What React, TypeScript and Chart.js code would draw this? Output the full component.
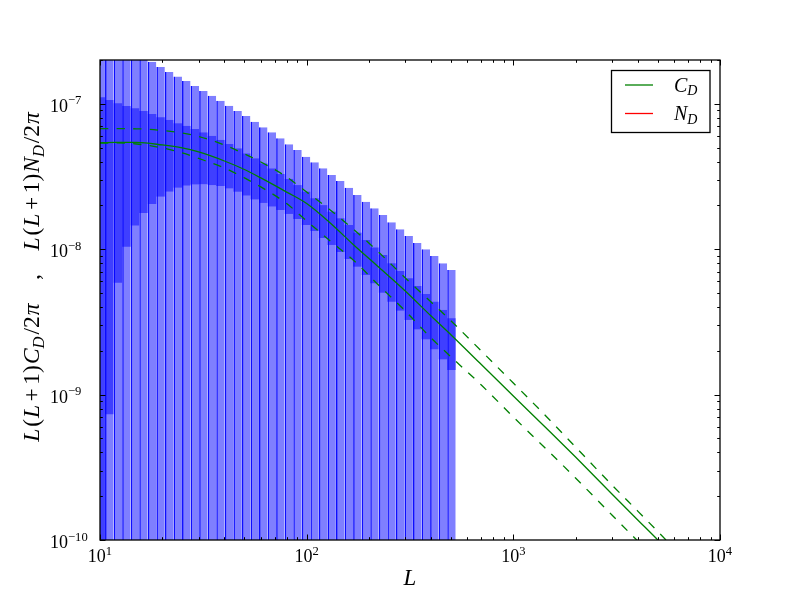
import React, { useEffect, useRef } from 'react';
import { Chart, registerables } from 'chart.js';

Chart.register(...registerables);

// ---------------- data ----------------
// bin centres (multipole L) of the binned band powers
const binCentersL = [10.08, 11.09, 12.2, 13.42, 14.76, 16.23, 17.86, 19.64, 21.61, 23.77, 26.15, 28.76, 31.64, 34.8, 38.28, 42.11, 46.32, 50.95, 56.05, 61.65, 67.82, 74.6, 82.06, 90.27, 99.29, 109.2, 120.1, 132.1, 145.4, 159.9, 175.9, 193.5, 212.8, 234.1, 257.5, 283.3, 311.6, 342.8, 377.0, 414.7, 456.2, 501.8];
// light (outer) band: upper edge (lower edge lies below the axis)
const outerHigh = [2.925e-7, 2.75e-7, 2.58e-7, 2.42e-7, 2.27e-7, 2.115e-7, 1.949e-7, 1.791e-7, 1.655e-7, 1.541e-7, 1.435e-7, 1.326e-7, 1.225e-7, 1.137e-7, 1.05e-7, 9.7e-8, 8.92e-8, 8.24e-8, 7.53e-8, 6.89e-8, 6.37e-8, 5.79e-8, 5.27e-8, 4.81e-8, 4.33e-8, 3.96e-8, 3.6e-8, 3.24e-8, 2.945e-8, 2.65e-8, 2.36e-8, 2.12e-8, 1.911e-8, 1.719e-8, 1.531e-8, 1.37e-8, 1.232e-8, 1.103e-8, 9.98e-9, 8.98e-9, 8.0e-9, 7.19e-9];
// dark (inner) band
const innerHigh = [1.108e-7, 1.062e-7, 1.008e-7, 9.66e-8, 9.31e-8, 8.92e-8, 8.51e-8, 8.08e-8, 7.74e-8, 7.34e-8, 7.04e-8, 6.71e-8, 6.35e-8, 6.01e-8, 5.64e-8, 5.29e-8, 4.93e-8, 4.55e-8, 4.21e-8, 3.886e-8, 3.59e-8, 3.29e-8, 3.04e-8, 2.76e-8, 2.485e-8, 2.24e-8, 2.01e-8, 1.811e-8, 1.631e-8, 1.467e-8, 1.299e-8, 1.157e-8, 1.027e-8, 9.12e-9, 8.0e-9, 7.08e-9, 6.31e-9, 5.58e-9, 4.92e-9, 4.35e-9, 3.82e-9, 3.35e-9];
const innerLow = [5e-11, 7.32e-10, 5.88e-9, 1.04e-8, 1.455e-8, 1.774e-8, 2.046e-8, 2.3e-8, 2.49e-8, 2.65e-8, 2.74e-8, 2.79e-8, 2.8e-8, 2.76e-8, 2.72e-8, 2.62e-8, 2.485e-8, 2.34e-8, 2.2e-8, 2.08e-8, 1.967e-8, 1.86e-8, 1.747e-8, 1.613e-8, 1.467e-8, 1.334e-8, 1.194e-8, 1.069e-8, 9.56e-9, 8.56e-9, 7.58e-9, 6.65e-9, 5.83e-9, 5.02e-9, 4.35e-9, 3.78e-9, 3.26e-9, 2.81e-9, 2.4e-9, 2.05e-9, 1.748e-9, 1.476e-9];

// theory curve C_D and its spread
const curveL = [10, 12, 15, 20, 25, 30, 40, 50, 60, 80, 100, 130, 170, 220, 300, 400, 500, 700, 1000, 1500, 2000, 3000, 4000, 5000, 6000];
const cdMid = [5.4e-8, 5.42e-8, 5.42e-8, 5.21e-8, 4.97e-8, 4.66e-8, 4.04e-8, 3.53e-8, 3.09e-8, 2.47e-8, 2.06e-8, 1.514e-8, 1.06e-8, 7.66e-9, 5.16e-9, 3.47e-9, 2.57e-9, 1.61e-9, 9.78e-10, 5.58e-10, 3.72e-10, 2.07e-10, 1.373e-10, 1.0e-10, 7.64e-11];
const cdUpper = [6.74e-8, 6.74e-8, 6.73e-8, 6.55e-8, 6.3e-8, 5.96e-8, 5.21e-8, 4.52e-8, 3.98e-8, 3.14e-8, 2.47e-8, 1.86e-8, 1.355e-8, 9.72e-9, 6.34e-9, 4.33e-9, 3.21e-9, 1.995e-9, 1.2e-9, 6.69e-10, 4.36e-10, 2.39e-10, 1.58e-10, 1.144e-10, 8.74e-11];
const cdLower = [5.36e-8, 5.38e-8, 5.29e-8, 4.97e-8, 4.59e-8, 4.21e-8, 3.62e-8, 3.09e-8, 2.68e-8, 2.06e-8, 1.563e-8, 1.139e-8, 8.3e-9, 5.76e-9, 3.76e-9, 2.45e-9, 1.814e-9, 1.164e-9, 7.01e-10, 4.0e-10, 2.67e-10, 1.486e-10, 9.84e-11, 7.17e-11, 5.48e-11];
// noise curve N_D: no points fall inside the plotted range
const ndL: number[] = [];
const ndValues: number[] = [];

// axes
const xRange = [10, 10000];
const yRange = [1e-10, 2e-7];
const xMajorTicks = [10, 100, 1000, 10000];
const xTickExponents = ['1', '2', '3', '4'];
const yMajorTicks = [1e-10, 1e-9, 1e-8, 1e-7];
const yTickExponents = ['\u221210', '\u22129', '\u22128', '\u22127'];

// ---------------- drawing helpers ----------------
const SERIF = '"Liberation Serif", "DejaVu Serif", serif';
type Run = { t: string; it?: boolean; s: number; dy?: number; gap?: number };

function fontOf(r: Run) {
  return `${r.it ? 'italic ' : ''}${r.s}px ${SERIF}`;
}
function runsWidth(ctx: CanvasRenderingContext2D, runs: Run[]) {
  let w = 0;
  for (const r of runs) {
    ctx.font = fontOf(r);
    w += ctx.measureText(r.t).width + (r.gap || 0);
  }
  return w;
}
function drawRuns(ctx: CanvasRenderingContext2D, runs: Run[], x: number, y: number) {
  let cx = x;
  for (const r of runs) {
    ctx.font = fontOf(r);
    ctx.fillText(r.t, cx, y + (r.dy || 0));
    cx += ctx.measureText(r.t).width + (r.gap || 0);
  }
}

const TICK_FS = 18;
const EXP_FS = 12.6;
const LABEL_FS = 23.5;
const SUB_FS = 16.5;

function powerRuns(exp: string): Run[] {
  return [
    { t: '10', s: TICK_FS },
    { t: exp, s: EXP_FS, dy: -7.5 },
  ];
}

function spectrumRuns(letter: string): Run[] {
  return [
    { t: 'L', it: true, s: LABEL_FS, gap: 2 },
    { t: '(', s: LABEL_FS, gap: 1 },
    { t: 'L', it: true, s: LABEL_FS, gap: 3.5 },
    { t: '+', s: LABEL_FS, gap: 3.5 },
    { t: '1)', s: LABEL_FS, gap: 1 },
    { t: letter, it: true, s: LABEL_FS, gap: 0 },
    { t: 'D', it: true, s: SUB_FS, dy: 4.5, gap: 2 },
    { t: '/2', s: LABEL_FS, gap: 1 },
    { t: '\u03c0', it: true, s: LABEL_FS },
  ];
}

const decorPlugin = {
  id: 'decor',
  afterDraw(chart: any) {
    const ctx: CanvasRenderingContext2D = chart.ctx;
    const xs = chart.scales.x;
    const ys = chart.scales.y;
    const { left, right, top, bottom } = chart.chartArea;
    ctx.save();

    // frame
    ctx.strokeStyle = '#000';
    ctx.lineWidth = 1.3;
    ctx.strokeRect(left, top, right - left, bottom - top);

    // inward ticks on all four sides
    ctx.lineWidth = 1;
    const seg = (x1: number, y1: number, x2: number, y2: number) => {
      ctx.beginPath();
      ctx.moveTo(x1, y1);
      ctx.lineTo(x2, y2);
      ctx.stroke();
    };
    for (const base of xMajorTicks) {
      for (let m = 1; m <= 9; m++) {
        const v = base * m;
        if (v > xRange[1] * 1.0001) break;
        const px = Math.round(xs.getPixelForValue(v)) + 0.5;
        const len = m === 1 ? 5.5 : 2.8;
        seg(px, bottom, px, bottom - len);
        seg(px, top, px, top + len);
      }
    }
    for (const base of yMajorTicks) {
      for (let m = 1; m <= 9; m++) {
        const v = base * m;
        if (v > yRange[1] * 1.0001) break;
        const py = Math.round(ys.getPixelForValue(v)) + 0.5;
        const len = m === 1 ? 5.5 : 2.8;
        seg(left, py, left + len, py);
        seg(right, py, right - len, py);
      }
    }

    // tick labels
    ctx.fillStyle = '#000';
    ctx.textBaseline = 'alphabetic';
    ctx.textAlign = 'left';
    xMajorTicks.forEach((v, i) => {
      const runs = powerRuns(xTickExponents[i]);
      const w = runsWidth(ctx, runs);
      const px = xs.getPixelForValue(v);
      drawRuns(ctx, runs, px - w / 2, bottom + 22);
    });
    yMajorTicks.forEach((v, i) => {
      const runs = powerRuns(yTickExponents[i]);
      const py = ys.getPixelForValue(v);
      drawRuns(ctx, runs, 50, py + 8);
    });

    // x axis title
    const xTitle: Run[] = [{ t: 'L', it: true, s: 23 }];
    const xw = runsWidth(ctx, xTitle);
    drawRuns(ctx, xTitle, (left + right) / 2 - xw / 2, 585);

    // y axis title (rotated)
    const yTitle: Run[] = [
      ...spectrumRuns('C'),
      { t: '    ,    ', s: LABEL_FS },
      ...spectrumRuns('N'),
    ];
    const yw = runsWidth(ctx, yTitle);
    ctx.save();
    ctx.translate(39, 277);
    ctx.rotate(-Math.PI / 2);
    drawRuns(ctx, yTitle, -yw / 2, 0);
    ctx.restore();

    // legend
    const lx = 611.5, ly = 70.5, lw = 98.5, lh = 62;
    ctx.fillStyle = '#fff';
    ctx.fillRect(lx, ly, lw, lh);
    ctx.strokeStyle = '#000';
    ctx.lineWidth = 1.3;
    ctx.strokeRect(lx, ly, lw, lh);
    const entries = [
      { ds: chart.data.datasets[0], letter: 'C', y: 85 },
      { ds: chart.data.datasets[3], letter: 'N', y: 113.5 },
    ];
    for (const e of entries) {
      ctx.strokeStyle = e.ds.borderColor;
      ctx.lineWidth = 1.3;
      seg(625, e.y, 653, e.y);
      ctx.fillStyle = '#000';
      drawRuns(ctx, [
        { t: e.letter, it: true, s: 20, gap: 0 },
        { t: 'D', it: true, s: 14, dy: 3.5 },
      ], 674, e.y + 6.5);
    }
    ctx.restore();
  },
};

export default function App() {
  const canvasRef = useRef<HTMLCanvasElement | null>(null);

  useEffect(() => {
    const canvas = canvasRef.current;
    if (!canvas) return;
    const green = '#008000';
    const pts = (xsArr: number[], ysArr: number[]) => xsArr.map((x, i) => ({ x, y: ysArr[i] }));
    const lineCommon = {
      type: 'line' as const,
      pointRadius: 0,
      borderWidth: 1.3,
      fill: false,
      cubicInterpolationMode: 'monotone' as const,
      clip: 0,
      order: 0,
    };
    const chart = new Chart(canvas, {
      type: 'bar',
      data: {
        datasets: [
          { ...lineCommon, label: 'C_D', data: pts(curveL, cdMid), borderColor: green },
          { ...lineCommon, label: 'C_D upper', data: pts(curveL, cdUpper), borderColor: green, borderDash: [8.3, 8.3] },
          { ...lineCommon, label: 'C_D lower', data: pts(curveL, cdLower), borderColor: green, borderDash: [8.3, 8.3] },
          { ...lineCommon, label: 'N_D', data: pts(ndL, ndValues), borderColor: '#ff0000' },
          {
            type: 'bar',
            label: 'inner band',
            data: binCentersL.map((x, i) => ({ x, y: [innerLow[i], innerHigh[i]] })),
            backgroundColor: 'rgba(0,0,255,0.5)',
            borderWidth: 0,
            grouped: false,
            barPercentage: 1,
            categoryPercentage: 1,
            inflateAmount: 0,
            clip: 0,
            order: 1,
          } as any,
          {
            type: 'bar',
            label: 'outer band',
            data: binCentersL.map((x, i) => ({ x, y: outerHigh[i] })),
            backgroundColor: 'rgba(0,0,255,0.5)',
            borderColor: 'rgba(0,0,255,0.95)',
            borderWidth: { left: 1.6, right: 0, top: 0, bottom: 0 },
            grouped: false,
            barPercentage: 1,
            categoryPercentage: 1,
            inflateAmount: 0,
            clip: 0,
            order: 2,
          } as any,
        ] as any,
      },
      options: {
        responsive: false,
        devicePixelRatio: 1,
        animation: false,
        layout: { padding: { left: 100, right: 80, top: 60, bottom: 60 } },
        plugins: { legend: { display: false }, tooltip: { enabled: false } },
        scales: {
          x: { type: 'logarithmic', min: xRange[0], max: xRange[1], display: false, offset: false },
          y: { type: 'logarithmic', min: yRange[0], max: yRange[1], display: false },
        },
      } as any,
      plugins: [decorPlugin],
    });
    return () => chart.destroy();
  }, []);

  return (
    <div style={{ position: 'absolute', left: 0, top: 0, width: 800, height: 600, background: '#fff' }}>
      <canvas ref={canvasRef} width={800} height={600} style={{ display: 'block', width: 800, height: 600 }} />
    </div>
  );
}
